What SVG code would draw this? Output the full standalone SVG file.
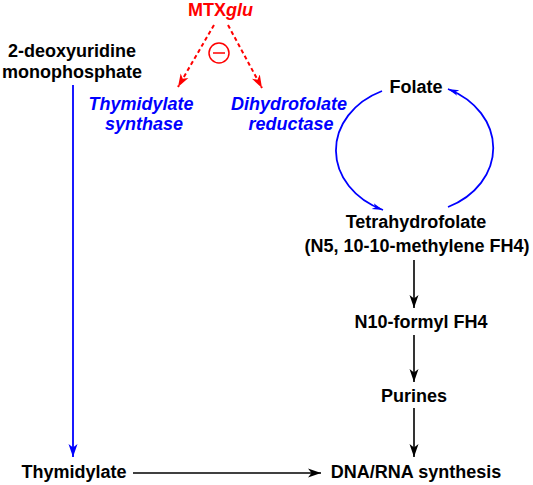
<svg xmlns="http://www.w3.org/2000/svg" width="533" height="485" viewBox="0 0 533 485">
<defs>
<style>
text{font-family:"Liberation Sans",Arial,sans-serif;font-weight:bold;font-size:18px;text-anchor:middle}
.k{fill:#000}
.b{fill:#0000ff;font-style:italic}
.r{fill:#ff0000}
.lk{stroke:#000;stroke-width:1.6;fill:none}
.lb{stroke:#0000ff;stroke-width:1.8;fill:none}
.lr{stroke:#ff0000;stroke-width:2;fill:none;stroke-dasharray:4,3}
</style>
<marker id="ak" markerUnits="userSpaceOnUse" markerWidth="14" markerHeight="10" refX="13" refY="5" orient="auto"><path d="M0,0.5 L13,5 L0,9.5 L3.5,5 z" fill="#000"/></marker>
<marker id="ab" markerUnits="userSpaceOnUse" markerWidth="14" markerHeight="10" refX="13" refY="5" orient="auto"><path d="M0,0.5 L13,5 L0,9.5 L3.5,5 z" fill="#0000ff"/></marker>
<marker id="abs" markerUnits="userSpaceOnUse" markerWidth="12" markerHeight="8" refX="11" refY="4" orient="auto"><path d="M0,1 L11,4 L0,7 L3,4 z" fill="#0000ff"/></marker>
<marker id="ar" markerUnits="userSpaceOnUse" markerWidth="14" markerHeight="10" refX="13" refY="5" orient="auto"><path d="M0,0.5 L13,5 L0,9.5 L3.5,5 z" fill="#ff0000"/></marker>
</defs>
<rect width="533" height="485" fill="#fff"/>
<g id="connectors">
<line class="lr" x1="214" y1="25" x2="178" y2="87" marker-end="url(#ar)"/>
<line class="lr" x1="228" y1="25" x2="262" y2="88" marker-end="url(#ar)"/>
<line class="lb" x1="73" y1="85" x2="73" y2="457" marker-end="url(#ab)"/>
<line class="lk" x1="133" y1="473" x2="321" y2="473" marker-end="url(#ak)"/>
<line class="lk" x1="414" y1="260" x2="414" y2="308" marker-end="url(#ak)"/>
<line class="lk" x1="414" y1="335" x2="414" y2="382" marker-end="url(#ak)"/>
<line class="lk" x1="414" y1="408" x2="414" y2="457" marker-end="url(#ak)"/>
<path class="lb" d="M382,91 A80,65.5 0 0 0 383,210" marker-end="url(#abs)"/>
<path class="lb" d="M448,207 A80,65.5 0 0 0 448,89" marker-end="url(#abs)"/>
</g>
<g id="inhibit">
<circle cx="219" cy="53" r="10" fill="none" stroke="#ff0000" stroke-width="1.5"/>
<line x1="213" y1="53" x2="225" y2="53" stroke="#ff0000" stroke-width="1.5"/>
</g>
<g id="mtxglu"><text class="r" x="220.5" y="16">MTX<tspan font-style="italic">glu</tspan></text></g>
<g id="dump"><text class="k" x="72" y="57">2-deoxyuridine</text><text class="k" x="72" y="78">monophosphate</text></g>
<g id="ts"><text class="b" x="141" y="110">Thymidylate</text><text class="b" x="144" y="130">synthase</text></g>
<g id="dhfr"><text class="b" x="289" y="110">Dihydrofolate</text><text class="b" x="291" y="130">reductase</text></g>
<g id="folate"><text class="k" x="416" y="93">Folate</text></g>
<g id="thf"><text class="k" x="416" y="228">Tetrahydrofolate</text><text class="k" x="417" y="252">(N5, 10-10-methylene FH4)</text></g>
<g id="n10"><text class="k" x="421" y="328">N10-formyl FH4</text></g>
<g id="purines"><text class="k" x="414" y="402">Purines</text></g>
<g id="thymidylate"><text class="k" x="74" y="478">Thymidylate</text></g>
<g id="dna"><text class="k" x="416" y="478">DNA/RNA synthesis</text></g>
</svg>
